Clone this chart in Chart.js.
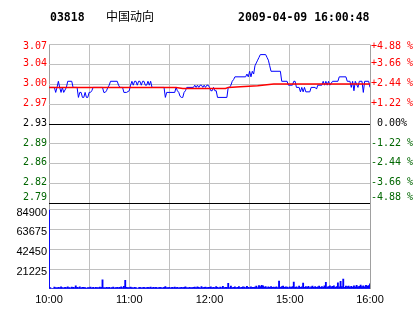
<!DOCTYPE html>
<html>
<head>
<meta charset="utf-8">
<script src="https://cdn.jsdelivr.net/npm/chart.js@4.4.1/dist/chart.umd.min.js"></script>
<style>
  html, body { margin: 0; padding: 0; background: #fff; }
  #wrap { position: relative; width: 414px; height: 314px; overflow: hidden; background: #fff; }
  #wrap canvas { position: absolute; left: 0; top: 0; }
  .hd { position: absolute; top: 10px; line-height: 14px; color: #000; white-space: pre;
        font: bold 11.5px "DejaVu Sans Mono", monospace; }
  #code { left: 50px; }
  #name { left: 106px; top: 8px; font: 12px "Noto Sans CJK SC", sans-serif; line-height: 16px; }
  #stamp { left: 238px; }
</style>
</head>
<body>
<div id="wrap">
  <canvas id="priceChart" width="414" height="314"></canvas>
  <canvas id="volChart" width="414" height="314"></canvas>
  <div class="hd" id="code">03818</div>
  <div class="hd" id="name">中国动向</div>
  <div class="hd" id="stamp">2009-04-09 16:00:48</div>
</div>
<script>
// 03818 intraday, 10:00-12:30 + 14:30-16:00, minute index 0..240
const prevClose = 2.93;
const pctSteps = [-4.88, -3.66, -2.44, -1.22, 0, 1.22, 2.44, 3.66, 4.88];
const priceTickLabels = ['2.79', '2.82', '2.86', '2.89', '2.93', '2.97', '3.00', '3.04', '3.07'];
const pctTickLabels = ['-4.88 %', '-3.66 %', '-2.44 %', '-1.22 %', ' 0.00%', '+1.22 %', '+2.44 %', '+3.66 %', '+4.88 %'];
const timeTicks = [0, 30, 60, 90, 120, 150, 180, 210, 240];
const timeTickLabels = ['10:00', '', '11:00', '', '12:00', '', '15:00', '', '16:00'];

const priceMinutes = [
  0, 4, 5, 6, 7, 8, 9, 10, 11, 13, 14, 17, 18, 21, 22, 23, 24, 25, 26, 27,
  28, 29, 30, 31, 32, 33, 40, 41, 42, 43, 44, 45, 46, 51, 52, 53, 55, 56, 58, 60,
  61, 62, 63, 64, 65, 66, 67, 68, 69, 70, 71, 72, 73, 74, 75, 76, 77, 86, 87, 88,
  94, 95, 96, 97, 98, 99, 100, 101, 102, 103, 108, 109, 110, 111, 112, 113, 114, 115, 116, 117,
  118, 119, 120, 121, 122, 123, 124, 125, 126, 133, 134, 135, 136, 137, 138, 139, 147, 148, 149, 150,
  151, 152, 153, 154, 155, 156, 157, 158, 162, 163, 164, 165, 166, 173, 174, 178, 179, 182, 183, 184,
  185, 187, 188, 189, 190, 191, 192, 195, 196, 199, 200, 201, 204, 205, 206, 207, 208, 209, 210, 212,
  216, 217, 222, 223, 225, 226, 227, 228, 229, 231, 232, 234, 235, 236, 239, 240
];
const priceValues = [
  2.996, 2.996, 2.987, 2.996, 3.007, 2.996, 2.987, 2.996, 2.987, 2.996, 3.007, 3.007, 2.996, 2.996, 2.978, 2.987, 2.987, 2.978, 2.978, 2.987,
  2.978, 2.978, 2.987, 2.987, 2.990, 2.996, 2.996, 2.987, 2.987, 2.990, 2.996, 3.000, 3.007, 3.007, 3.000, 2.996, 2.996, 2.987, 2.987, 2.990,
  3.000, 3.007, 3.000, 3.007, 3.007, 3.000, 3.007, 3.007, 3.000, 3.007, 3.007, 3.000, 3.000, 3.007, 3.000, 3.007, 2.996, 2.996, 2.978, 2.987,
  2.987, 2.996, 2.990, 2.987, 2.980, 2.978, 2.978, 2.987, 2.990, 2.996, 2.996, 3.000, 2.996, 3.000, 2.996, 3.000, 3.000, 2.996, 3.000, 2.996,
  3.000, 3.000, 2.996, 2.990, 2.990, 2.996, 2.990, 2.990, 2.978, 2.978, 2.996, 2.996, 3.000, 3.007, 3.010, 3.015, 3.015, 3.020, 3.015, 3.025,
  3.015, 3.025, 3.020, 3.035, 3.040, 3.045, 3.050, 3.055, 3.055, 3.050, 3.045, 3.035, 3.025, 3.025, 3.007, 3.007, 3.000, 3.000, 3.007, 3.007,
  2.996, 2.996, 2.988, 2.996, 2.988, 2.996, 2.988, 2.988, 2.996, 2.996, 2.993, 3.000, 3.000, 3.007, 3.000, 3.007, 3.000, 3.007, 3.000, 3.007,
  3.007, 3.015, 3.015, 3.007, 3.007, 2.996, 3.007, 2.990, 3.007, 2.996, 3.007, 3.007, 2.987, 3.007, 3.007, 2.996
];

const avgMinutes = [0, 95, 100, 132, 134, 143, 156, 168, 240];
const avgValues = [2.996, 2.996, 2.994, 2.994, 2.996, 2.997, 2.999, 3.002, 3.002];

const volumes = [
  84900, 1500, 0, 0, 1900, 1400, 1200, 1700, 1300, 2100, 1500, 1100, 1800, 1400, 2300, 1500, 1200, 1900, 1600, 1300,
  3200, 1700, 1500, 2100, 1200, 1600, 1800, 1300, 1000, 1500, 1400, 1900, 1200, 1600, 1100, 1800, 1400, 1300, 2000, 1700,
  9600, 1400, 1200, 1600, 1300, 1800, 1100, 1500, 1900, 1200, 1400, 1700, 1300, 1600, 2200, 1500, 2800, 9200, 1700, 1500,
  1300, 1900, 1500, 1100, 1800, 1400, 0, 1300, 1600, 1200, 1500, 1800, 1100, 1400, 1700, 1300, 1900, 1200, 1600, 1400,
  1700, 1200, 1500, 1800, 1300, 1100, 1600, 2400, 1500, 1300, 1800, 1200, 1600, 1400, 1900, 1300, 1700, 1100, 1500, 1800,
  1300, 1600, 2100, 1400, 1200, 1800, 1500, 1300, 1700, 1900, 1400, 2300, 1600, 1200, 2600, 1500, 1800, 2000, 1400, 1700,
  1600, 2200, 1300, 1800, 1500, 2400, 1700, 1200, 1900, 1500, 2700, 1400, 1800, 1600, 6000, 1500, 2900, 1300, 1700, 2200,
  1400, 1800, 2500, 1300, 1600, 2100, 1900, 1500, 2800, 1700, 1400, 2300, 1800, 1600, 2000, 3100, 1500, 3600, 2500, 3800,
  3200, 1900, 2600, 1500, 2100, 1800, 2400, 1600, 2000, 1700, 2200, 1500, 8500, 1800, 2400, 3000, 1600, 2100, 1900, 1500,
  2300, 1700, 2600, 7400, 1800, 2200, 1500, 2900, 1700, 2100, 6100, 1600, 2400, 1900, 2700, 1500, 2200, 3100, 1800, 2500,
  1700, 2300, 2900, 1600, 2600, 2000, 3200, 7000, 1900, 2400, 3300, 2100, 2800, 3400, 1700, 2500, 6600, 2200, 8200, 2600,
  10600, 1800, 3000, 2400, 3100, 2000, 2700, 1900, 3300, 2300, 3700, 2100, 2800, 4000, 2500, 3200, 2200, 3800, 2900, 3500,
  5500
];
const volMax = 84900;
const volTicks = [0, 21225, 42450, 63675, 84900];
const volTickLabels = ['', '21225', '42450', '63675', '84900'];

// price axis: +-4.88% around previous close, plus a 6px gap down to the volume panel
const priceTicks = pctSteps.map(p => prevClose * (1 + p / 100));
const hi = priceTicks[priceTicks.length - 1];
const lo = priceTicks[0];
const axisMin = lo - (hi - lo) * 6 / 159;

const gridGray = '#c0c0c0';
const edgeGray = '#a0a0a0';
const monoFont = { family: '"DejaVu Sans Mono", monospace', size: 10 };
const sansFont = { family: '"Liberation Sans", Arial, sans-serif', size: 11 };

function tickColor(value) {
  if (Math.abs(value - prevClose) < 1e-9) return '#000000';
  return value > prevClose ? '#ff0000' : '#006600';
}

// keep the first/last price labels inside the panel like the original applet
const edgeLabelNudge = {
  id: 'edgeLabelNudge',
  beforeDraw(chart) {
    ['y', 'yPct'].forEach(id => {
      const items = chart.scales[id].getLabelItems();
      if (!items.length) return;
      items[0].options.translation[1] -= 5;
      items[items.length - 1].options.translation[1] += 2.4;
    });
  }
};

function timeAxis(showLabels) {
  return {
    type: 'linear', min: 0, max: 240, offset: false,
    afterBuildTicks: s => { s.ticks = timeTicks.map(v => ({ value: v })); },
    afterFit: s => { s.height = showLabels ? 314 - 288.9 : 0; },
    grid: { offset: false, drawTicks: false,
            color: c => (c.index === 0 || c.index === timeTicks.length - 1) ? edgeGray : gridGray },
    border: { display: false },
    ticks: { display: showLabels, padding: 4, maxRotation: 0, autoSkip: false,
             font: sansFont, color: '#000',
             callback: (v, i) => timeTickLabels[i] }
  };
}

new Chart(document.getElementById('priceChart'), {
  type: 'line',
  data: {
    datasets: [
      { label: 'avg', data: avgMinutes.map((m, i) => ({ x: m, y: avgValues[i] })),
        borderColor: '#ff0000', borderWidth: 1.5, pointRadius: 0, tension: 0, yAxisID: 'y' },
      { label: 'price', data: priceMinutes.map((m, i) => ({ x: m, y: priceValues[i] })),
        borderColor: '#0000ff', borderWidth: 1, pointRadius: 0, tension: 0, yAxisID: 'y' }
    ]
  },
  options: {
    responsive: false, animation: false,
    layout: { padding: { top: 44.6, bottom: 314 - 209.6, left: 0, right: 0 } },
    plugins: { legend: { display: false }, tooltip: { enabled: false } },
    scales: {
      x: timeAxis(false),
      y: {
        type: 'linear', position: 'left', min: axisMin, max: hi,
        afterBuildTicks: s => { s.ticks = priceTicks.map(v => ({ value: v })); },
        afterFit: s => { s.width = 49; },
        grid: { drawTicks: false, color: c => (c.index === 0 || c.index === 4) ? '#000000' : gridGray },
        border: { display: false },
        ticks: { padding: 2, labelOffset: -1, font: monoFont, callback: (v, i) => priceTickLabels[i],
                 color: c => tickColor(c.tick.value) }
      },
      yPct: {
        type: 'linear', position: 'right', min: axisMin, max: hi,
        afterBuildTicks: s => { s.ticks = priceTicks.map(v => ({ value: v })); },
        afterFit: s => { s.width = 44; },
        grid: { display: false, drawTicks: false },
        border: { display: false },
        ticks: { padding: 1, labelOffset: -1, font: monoFont, callback: (v, i) => pctTickLabels[i],
                 color: c => tickColor(c.tick.value) }
      }
    }
  },
  plugins: [edgeLabelNudge]
});

new Chart(document.getElementById('volChart'), {
  type: 'bar',
  data: {
    datasets: [{ label: 'volume', data: volumes.map((v, i) => ({ x: i, y: v })),
                 backgroundColor: '#0000ff', borderWidth: 0, barThickness: 1.2 }]
  },
  options: {
    responsive: false, animation: false,
    layout: { padding: { top: 209.6, bottom: 0, left: 0, right: 44 } },
    plugins: { legend: { display: false }, tooltip: { enabled: false } },
    scales: {
      x: timeAxis(true),
      y: {
        type: 'linear', position: 'left', min: 0, max: volMax,
        afterBuildTicks: s => { s.ticks = volTicks.map(v => ({ value: v })); },
        afterFit: s => { s.width = 49; },
        grid: { drawTicks: false, color: gridGray },
        border: { display: false },
        ticks: { padding: 2, labelOffset: 3, font: sansFont, color: '#000',
                 callback: (v, i) => volTickLabels[i] }
      }
    }
  }
});
</script>
</body>
</html>
